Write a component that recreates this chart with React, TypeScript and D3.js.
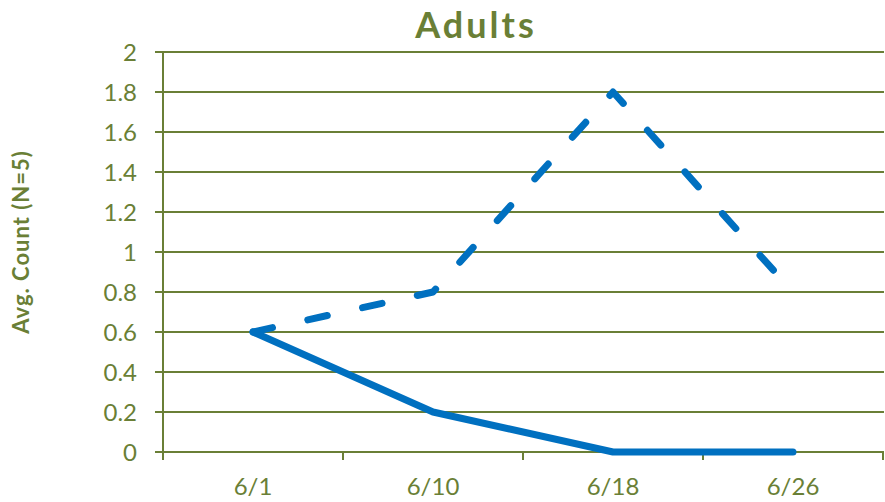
import * as d3 from 'd3'
import { useEffect, useRef } from 'react'

const dates = ['6/1', '6/10', '6/18', '6/26']
const dashedSeries = [0.6, 0.8, 1.8, 0.8]
const solidSeries = [0.6, 0.2, 0, 0]
const yTicks = [0, 0.2, 0.4, 0.6, 0.8, 1, 1.2, 1.4, 1.6, 1.8, 2]

const olive = '#6a7f36'
const blue = '#0070C0'
const font = 'Lato, "Open Sans", sans-serif'

export default function App() {
  const svgRef = useRef<SVGSVGElement>(null)

  useEffect(() => {
    if (!svgRef.current) return
    document.body.style.margin = '0'

    const width = 885
    const height = 502
    const svg = d3.select(svgRef.current)
    svg.selectAll('*').remove()
    svg.attr('width', width).attr('height', height)

    const margin = { top: 52, right: 2, bottom: 50, left: 163 }

    const x = d3
      .scaleBand()
      .domain(dates)
      .range([margin.left, width - margin.right])
      .padding(0)

    const y = d3
      .scaleLinear()
      .domain([0, 2])
      .range([height - margin.bottom, margin.top])

    // Gridlines (incl. the zero line acting as x axis)
    svg
      .append('g')
      .selectAll('line')
      .data(yTicks)
      .enter()
      .append('line')
      .attr('x1', margin.left - 8)
      .attr('x2', width - margin.right + 1)
      .attr('y1', d => y(d))
      .attr('y2', d => y(d))
      .attr('stroke', olive)
      .attr('stroke-width', 2)

    // Y axis line
    svg
      .append('line')
      .attr('x1', margin.left)
      .attr('x2', margin.left)
      .attr('y1', y(2))
      .attr('y2', y(0) + 8)
      .attr('stroke', olive)
      .attr('stroke-width', 2)

    // X ticks at category boundaries
    const bounds = dates.map(d => x(d)! + x.bandwidth())
    svg
      .append('g')
      .selectAll('line')
      .data(bounds)
      .enter()
      .append('line')
      .attr('x1', d => d)
      .attr('x2', d => d)
      .attr('y1', y(0))
      .attr('y2', y(0) + 8)
      .attr('stroke', olive)
      .attr('stroke-width', 2)

    // Y tick labels
    svg
      .append('g')
      .selectAll('text')
      .data(yTicks)
      .enter()
      .append('text')
      .attr('x', margin.left - 26)
      .attr('y', d => y(d))
      .attr('dy', '0.36em')
      .attr('text-anchor', 'end')
      .style('font-family', font)
      .style('font-size', '24px')
      .style('fill', olive)
      .text(d => d3.format('~g')(d))

    // X tick labels
    svg
      .append('g')
      .selectAll('text')
      .data(dates)
      .enter()
      .append('text')
      .attr('x', d => x(d)! + x.bandwidth() / 2)
      .attr('y', 495)
      .attr('text-anchor', 'middle')
      .style('font-family', font)
      .style('font-size', '24px')
      .style('fill', olive)
      .text(d => d)

    const line = d3
      .line<number>()
      .x((_, i) => x(dates[i])! + x.bandwidth() / 2)
      .y(d => y(d))

    svg
      .append('path')
      .datum(solidSeries)
      .attr('d', line)
      .attr('fill', 'none')
      .attr('stroke', blue)
      .attr('stroke-width', 7)
      .attr('stroke-linecap', 'round')
      .attr('stroke-linejoin', 'round')

    svg
      .append('path')
      .datum(dashedSeries)
      .attr('d', line)
      .attr('fill', 'none')
      .attr('stroke', blue)
      .attr('stroke-width', 7)
      .attr('stroke-dasharray', '20 36.1')
      .attr('stroke-linecap', 'round')
      .attr('stroke-linejoin', 'round')

    // Title
    svg
      .append('text')
      .attr('x', 476)
      .attr('y', 38)
      .attr('text-anchor', 'middle')
      .style('font-family', font)
      .style('font-size', '36px')
      .style('font-weight', 'bold')
      .style('letter-spacing', '3px')
      .style('fill', olive)
      .text('Adults')

    // Y axis label
    svg
      .append('text')
      .attr('transform', 'translate(29,242) rotate(-90)')
      .attr('text-anchor', 'middle')
      .style('font-family', font)
      .style('font-size', '22px')
      .style('font-weight', 'bold')
      .style('letter-spacing', '1px')
      .style('fill', olive)
      .text('Avg. Count (N=5)')
  }, [])

  return <svg ref={svgRef} style={{ display: 'block' }}></svg>
}
